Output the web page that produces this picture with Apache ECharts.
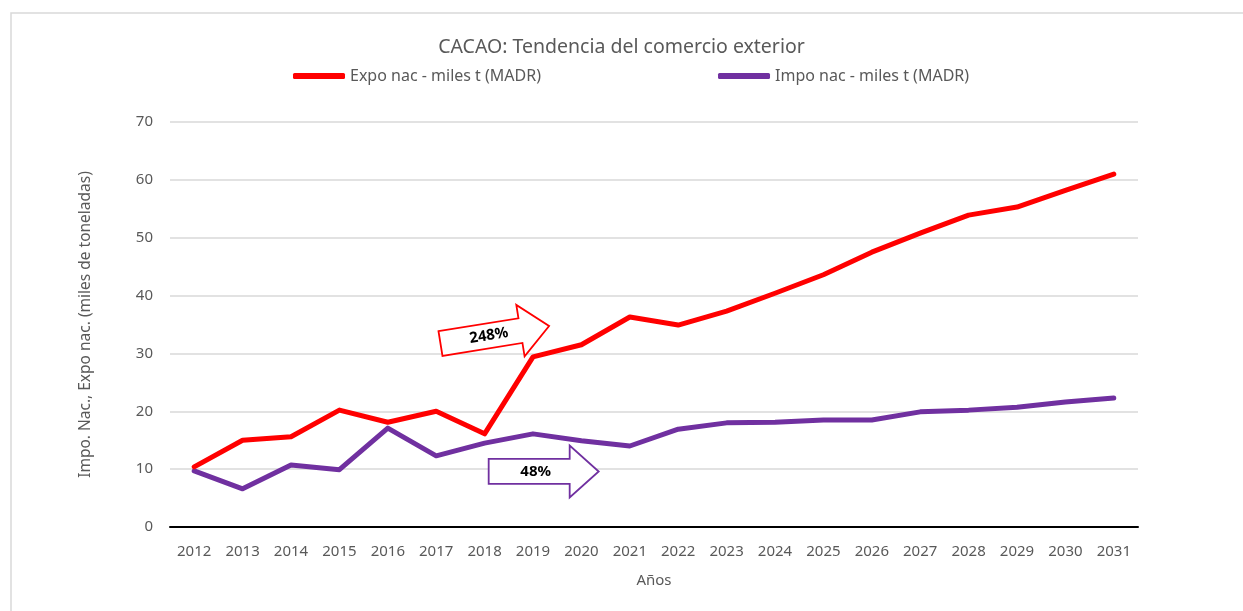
<!DOCTYPE html>
<html>
<head>
<meta charset="utf-8">
<script src="https://cdn.jsdelivr.net/npm/echarts@6/dist/echarts.min.js"></script>
<style>
html, body { margin: 0; padding: 0; background: #fff; }
#main { width: 1243px; height: 611px; }
</style>
</head>
<body>
<div id="main"></div>
<script>
var years = ['2012', '2013', '2014', '2015', '2016', '2017', '2018', '2019', '2020', '2021',
	'2022', '2023', '2024', '2025', '2026', '2027', '2028', '2029', '2030', '2031'];
var expoNac = [10.4, 15.0, 15.6, 20.2, 18.1, 20.0, 16.1, 29.4, 31.5, 36.3,
	34.9, 37.3, 40.4, 43.6, 47.5, 50.8, 53.9, 55.3, 58.2, 61.0];
var impoNac = [9.7, 6.6, 10.7, 9.9, 17.1, 12.3, 14.5, 16.1, 14.9, 14.0,
	16.9, 18.0, 18.1, 18.5, 18.5, 19.9, 20.2, 20.7, 21.6, 22.3];
var yTicks = [0, 10, 20, 30, 40, 50, 60, 70];
// flechas de variacion: [indice categoria, valor, texto]
var expoArrow = [6.19, 33.2, '248%'];
var impoArrow = [7.2, 9.6, '48%'];

var FONT = '"Noto Sans", sans-serif';
var GREY = '#595959';

var chartDom = document.getElementById('main');
var myChart = echarts.init(chartDom, null, { renderer: 'canvas' });

var option = {
	backgroundColor: '#fff',
	animation: false,
	title: {
		text: 'CACAO: Tendencia del comercio exterior',
		left: 'center',
		top: 37,
		padding: 0,
		textStyle: { fontFamily: FONT, fontSize: 19.5, fontWeight: 'normal', color: GREY }
	},
	legend: {
		top: 68,
		left: 293,
		padding: 0,
		itemGap: 177,
		itemWidth: 52,
		itemHeight: 6,
		icon: 'roundRect',
		textStyle: { fontFamily: FONT, fontSize: 16, color: GREY },
		data: ['Expo nac - miles t (MADR)', 'Impo nac - miles t (MADR)']
	},
	grid: { left: 170, right: 105, top: 122, bottom: 84 },
	xAxis: {
		type: 'category',
		data: years,
		name: 'Años',
		nameLocation: 'middle',
		nameGap: 46,
		nameTextStyle: { fontFamily: FONT, fontSize: 15, color: GREY },
		axisLine: { lineStyle: { color: '#000', width: 2 } },
		axisTick: { show: false },
		axisLabel: { fontFamily: FONT, fontSize: 15, color: GREY, margin: 17 }
	},
	yAxis: {
		type: 'value',
		min: yTicks[0],
		max: yTicks[yTicks.length - 1],
		interval: 10,
		name: 'Impo. Nac., Expo nac. (miles de toneladas)',
		nameLocation: 'middle',
		nameGap: 76,
		nameTextStyle: { fontFamily: FONT, fontSize: 15.5, color: GREY },
		axisLine: { show: false },
		axisTick: { show: false },
		axisLabel: { fontFamily: FONT, fontSize: 15, color: GREY, margin: 17 },
		splitLine: { lineStyle: { color: '#d9d9d9', width: 1.5 } }
	},
	series: [{
		name: 'Expo nac - miles t (MADR)',
		type: 'line',
		data: expoNac,
		symbol: 'none',
		color: '#ff0000',
		lineStyle: { width: 5, color: '#ff0000', cap: 'round', join: 'round' },
		z: 3
	}, {
		name: 'Impo nac - miles t (MADR)',
		type: 'line',
		data: impoNac,
		symbol: 'none',
		color: '#7030a0',
		lineStyle: { width: 5, color: '#7030a0', cap: 'round', join: 'round' },
		z: 2
	}]
};

myChart.setOption(option);

// forma de flecha centrada en (0,0)
function arrowShape(bodyL, bodyR, bodyH, headR, headH) {
	return [[bodyL, -bodyH], [bodyR, -bodyH], [bodyR, -headH], [headR, 0],
		[bodyR, headH], [bodyR, bodyH], [bodyL, bodyH]];
}

// el eje de categorias redondea el indice: interpolar entre dos categorias
function toPixel(idx, val) {
	var i0 = Math.floor(idx);
	var p0 = myChart.convertToPixel({ gridIndex: 0 }, [i0, val]);
	var p1 = myChart.convertToPixel({ gridIndex: 0 }, [i0 + 1, val]);
	var f = idx - i0;
	return [p0[0] + (p1[0] - p0[0]) * f, p0[1]];
}

function makeArrow(a, color, rotation, textDx) {
	var p = toPixel(a[0], a[1]);
	return {
		type: 'group',
		x: p[0],
		y: p[1],
		rotation: rotation,
		z: 10,
		children: [{
			type: 'polygon',
			shape: { points: arrowShape(-54, 27, 12.5, 56, 26) },
			style: { fill: '#fff', stroke: color, lineWidth: 1.8 }
		}, {
			type: 'text',
			x: textDx,
			y: 0,
			style: {
				text: a[2],
				fill: '#000',
				font: 'bold 15px ' + FONT,
				align: 'center',
				verticalAlign: 'middle'
			}
		}]
	};
}

myChart.setOption({
	graphic: [{
		type: 'rect',
		shape: { x: 11, y: 13, width: 1300, height: 700 },
		style: { fill: null, stroke: '#d9d9d9', lineWidth: 1.5 },
		silent: true,
		z: -1
	},
		makeArrow(expoArrow, '#ff0000', 0.16, -5),
		makeArrow(impoArrow, '#7030a0', 0, -7)
	]
});

window.addEventListener('resize', function() {
	myChart.resize();
});
</script>
</body>
</html>
